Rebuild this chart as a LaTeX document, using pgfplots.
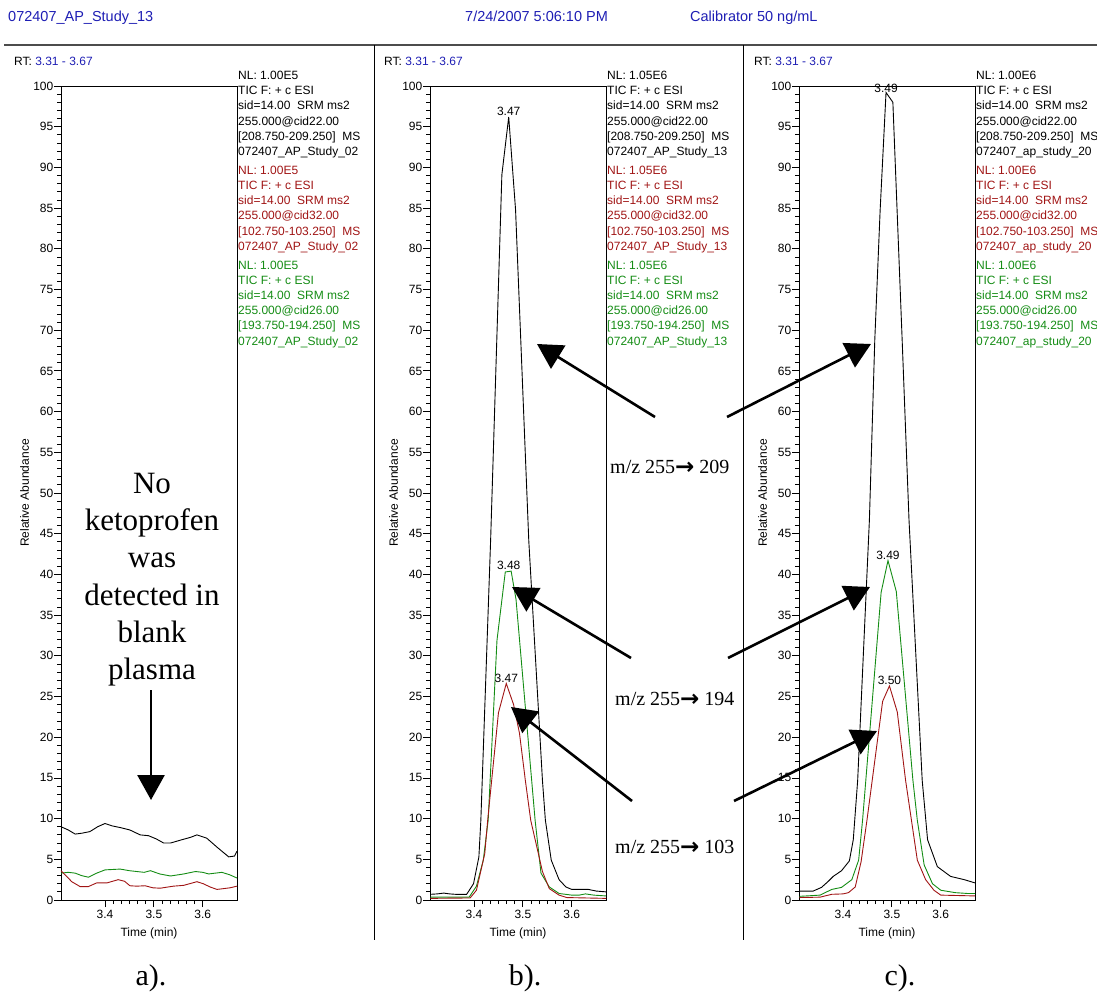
\documentclass[border=0pt]{standalone}
\usepackage{fontspec}
\setmainfont{Liberation Sans}
\newfontfamily\timesf{Liberation Serif}
\newfontfamily\djv{DejaVu Sans}
\usepackage{pgfplots}
\pgfplotsset{compat=1.18}
\usetikzlibrary{arrows.meta}
\definecolor{hdrblue}{RGB}{30,30,180}
\definecolor{cred}{RGB}{160,20,20}
\definecolor{cgreen}{RGB}{20,140,20}
\newcommand\fs[1]{\fontsize{#1}{#1}\selectfont}
\newcommand\legline[4]{\node[anchor=base west,inner sep=0pt,text=#3,font=\fs{12}] at (#1,{997-(#2)}) {#4};}
% #1 x, #2 y of first baseline, #3 colour, #4 NL, #5 cid, #6 range, #7 study
\newcommand\legblock[7]{%
  \legline{#1}{#2}{#3}{NL: #4}
  \legline{#1}{#2+15.2}{#3}{TIC F: + c ESI}
  \legline{#1}{#2+30.4}{#3}{sid=14.00\ \ SRM ms2}
  \legline{#1}{#2+45.6}{#3}{255.000@cid#5}
  \legline{#1}{#2+60.8}{#3}{[#6]\ \ MS}
  \legline{#1}{#2+76.0}{#3}{#7}}
\newcommand\arr{{\djv\bfseries\fs{23}\raisebox{-1pt}{→}}}
\pgfplotsset{chrom/.style={
  scale only axis, width=176pt, height=814pt,
  xmin=3.31, xmax=3.67, ymin=0, ymax=100,
  xtick={3.4,3.5,3.6}, ytick={0,5,...,100},
  minor x tick num=5, minor y tick num=4,
  tick align=outside, tick pos=left,
  major tick length=7pt, minor tick length=4pt,
  every tick/.style={black, line width=0.8pt},
  axis line style={line width=0.9pt},
  /pgf/number format/assume math mode=true,
  tick label style={font=\fs{12}},
  yticklabel style={inner xsep=0.5pt},
  xlabel={Time (min)}, ylabel={Relative Abundance},
  label style={font=\fs{12}},
  xlabel style={at={(axis description cs:0.5,-0.0405)}, anchor=center},
  ylabel style={at={(axis description cs:-0.207,0.5)}, anchor=center},
  clip=false,
  every axis plot/.append style={line width=0.9pt, mark=none},
  xticklabel style={/pgf/number format/.cd, fixed, precision=1},
}}
\begin{document}
\begin{tikzpicture}[x=1pt,y=1pt]
\useasboundingbox (0,0) rectangle (1097,997);
% header
\node[anchor=base west,inner sep=0pt,text=hdrblue,font=\fs{14.5}] at (8,975) {072407\_AP\_Study\_13};
\node[anchor=base west,inner sep=0pt,text=hdrblue,font=\fs{14.5}] at (465,975) {7/24/2007 5:06:10 PM};
\node[anchor=base west,inner sep=0pt,text=hdrblue,font=\fs{14.5}] at (690,975) {Calibrator 50 ng/mL};
\draw[line width=1.5pt, black!70] (4,997-45) -- (1097,997-45);
\draw[line width=1pt] (374,997-45) -- (374,997-940);
\draw[line width=1pt] (743,997-45) -- (743,997-940);
% RT labels
\node[anchor=base west,inner sep=0pt,font=\fs{12}] at (14,997-65.5) {RT: \textcolor{hdrblue}{3.31 - 3.67}};
\node[anchor=base west,inner sep=0pt,font=\fs{12}] at (384,997-65.5) {RT: \textcolor{hdrblue}{3.31 - 3.67}};
\node[anchor=base west,inner sep=0pt,font=\fs{12}] at (754,997-65.5) {RT: \textcolor{hdrblue}{3.31 - 3.67}};
% legends
\legblock{238}{79.5}{black}{1.00E5}{22.00}{208.750-209.250}{072407\_AP\_Study\_02}
\legblock{238}{174.3}{cred}{1.00E5}{32.00}{102.750-103.250}{072407\_AP\_Study\_02}
\legblock{238}{269.1}{cgreen}{1.00E5}{26.00}{193.750-194.250}{072407\_AP\_Study\_02}
\legblock{607}{79.5}{black}{1.05E6}{22.00}{208.750-209.250}{072407\_AP\_Study\_13}
\legblock{607}{174.3}{cred}{1.05E6}{32.00}{102.750-103.250}{072407\_AP\_Study\_13}
\legblock{607}{269.1}{cgreen}{1.05E6}{26.00}{193.750-194.250}{072407\_AP\_Study\_13}
\legblock{976}{79.5}{black}{1.00E6}{22.00}{208.750-209.250}{072407\_ap\_study\_20}
\legblock{976}{174.3}{cred}{1.00E6}{32.00}{102.750-103.250}{072407\_ap\_study\_20}
\legblock{976}{269.1}{cgreen}{1.00E6}{26.00}{193.750-194.250}{072407\_ap\_study\_20}

% ---------------- panel a
\begin{axis}[chrom, at={(61pt,97pt)}, anchor=south west]
\addplot[black] coordinates {(3.310,9.0) (3.325,8.6) (3.339,8.1) (3.352,8.2) (3.369,8.4) (3.385,9.0) (3.400,9.4) (3.415,9.1) (3.431,8.9) (3.451,8.6) (3.472,8.0) (3.489,7.9) (3.505,7.5) (3.520,7.0) (3.534,7.0) (3.557,7.4) (3.575,7.7) (3.588,8.0) (3.608,7.6) (3.629,6.5) (3.645,5.7) (3.653,5.3) (3.665,5.4) (3.670,6.0)};
\addplot[cgreen] coordinates {(3.310,3.3) (3.325,3.4) (3.339,3.3) (3.352,3.0) (3.366,2.8) (3.383,3.3) (3.400,3.7) (3.431,3.8) (3.450,3.6) (3.465,3.5) (3.480,3.4) (3.493,3.6) (3.512,3.2) (3.534,2.95) (3.561,3.2) (3.585,3.5) (3.600,3.4) (3.612,3.2) (3.639,3.4) (3.655,3.1) (3.670,2.7)};
\addplot[cred] coordinates {(3.310,3.6) (3.320,3.0) (3.332,2.25) (3.349,1.65) (3.366,1.65) (3.383,2.1) (3.404,2.1) (3.427,2.5) (3.440,2.3) (3.451,1.75) (3.465,1.7) (3.482,1.75) (3.498,1.5) (3.513,1.45) (3.540,1.7) (3.561,1.8) (3.588,2.25) (3.601,2.0) (3.615,1.6) (3.629,1.3) (3.656,1.5) (3.670,1.7)};
\end{axis}

% ---------------- panel b
\begin{axis}[chrom, at={(430pt,97pt)}, anchor=south west]
\addplot[black] coordinates {(3.311,0.7) (3.325,0.75) (3.338,0.85) (3.350,0.75) (3.362,0.7) (3.385,0.7) (3.399,2.0) (3.410,5.3) (3.414,9.8) (3.434,44.2) (3.457,89.1) (3.471,96.2) (3.485,84.8) (3.512,44.2) (3.540,14.7) (3.546,9.8) (3.558,4.9) (3.574,2.5) (3.588,1.6) (3.600,1.3) (3.634,1.3) (3.650,1.1) (3.670,1.0)};
\addplot[cgreen] coordinates {(3.311,0.35) (3.390,0.35) (3.405,1.7) (3.419,4.9) (3.429,9.8) (3.447,31.9) (3.464,40.3) (3.476,40.4) (3.486,36.9) (3.525,9.8) (3.537,3.3) (3.554,1.6) (3.574,0.8) (3.600,0.6) (3.615,0.6) (3.628,0.75) (3.645,0.6) (3.670,0.5)};
\addplot[cred] coordinates {(3.311,0.2) (3.392,0.25) (3.405,1.2) (3.422,5.7) (3.428,9.8) (3.450,23.0) (3.466,26.6) (3.481,24.0) (3.493,20.5) (3.505,14.7) (3.516,9.8) (3.540,3.5) (3.554,1.4) (3.574,0.6) (3.590,0.3) (3.670,0.2)};
\node[font=\fs{12},anchor=south,inner sep=1pt] at (axis cs:3.471,96.2) {3.47};
\node[font=\fs{12},anchor=south,inner sep=1pt] at (axis cs:3.471,40.4) {3.48};
\node[font=\fs{12},anchor=south,inner sep=1pt] at (axis cs:3.466,26.6) {3.47};
\end{axis}

% ---------------- panel c
\begin{axis}[chrom, at={(799pt,97pt)}, anchor=south west]
\addplot[black] coordinates {(3.311,1.1) (3.339,1.1) (3.356,1.55) (3.370,2.3) (3.380,2.9) (3.397,3.6) (3.413,4.8) (3.421,7.4) (3.430,14.7) (3.454,46.7) (3.465,68.8) (3.476,84.8) (3.488,99.2) (3.502,98.0) (3.521,68.8) (3.535,46.7) (3.562,14.7) (3.573,7.4) (3.593,4.1) (3.620,2.9) (3.648,2.5) (3.670,2.1)};
\addplot[cgreen] coordinates {(3.311,0.45) (3.353,0.6) (3.377,1.3) (3.397,1.55) (3.418,2.5) (3.432,4.9) (3.440,9.8) (3.478,37.8) (3.492,41.7) (3.509,37.9) (3.543,14.7) (3.552,9.8) (3.566,4.3) (3.583,2.0) (3.600,1.2) (3.630,0.9) (3.655,0.8) (3.670,0.8)};
\addplot[cred] coordinates {(3.311,0.3) (3.353,0.35) (3.377,0.7) (3.400,0.75) (3.411,0.9) (3.425,1.6) (3.437,4.7) (3.449,9.8) (3.481,24.4) (3.495,26.3) (3.511,23.1) (3.528,14.7) (3.540,9.8) (3.552,4.9) (3.569,2.5) (3.586,1.2) (3.600,0.6) (3.670,0.5)};
\node[font=\fs{12},anchor=south,inner sep=1pt] at (axis cs:3.488,99.0) {3.49};
\node[font=\fs{12},anchor=south,inner sep=1pt] at (axis cs:3.492,41.7) {3.49};
\node[font=\fs{12},anchor=south,inner sep=1pt] at (axis cs:3.495,26.3) {3.50};
\end{axis}

% annotations panel a
\foreach \t/\yy in {No/494, ketoprofen/531, was/568, detected in/605, blank/642, plasma/679}
  \node[font=\timesf\fs{31},anchor=base,inner sep=0pt] at (152,997-\yy) {\t};
\draw[line width=2.6pt, -{Triangle[length=25pt,width=27pt]}] (151,997-690) -- (151,997-800);

% arrows
\draw[line width=2.6pt, -{Triangle[length=25pt,width=27pt]}] (655,997-417) -- (537,997-344);
\draw[line width=2.6pt, -{Triangle[length=25pt,width=27pt]}] (727,997-417) -- (871,997-344);
\draw[line width=2.6pt, -{Triangle[length=25pt,width=27pt]}] (631,997-658) -- (512,997-587);
\draw[line width=2.6pt, -{Triangle[length=25pt,width=27pt]}] (728,997-658) -- (870,997-587);
\draw[line width=2.6pt, -{Triangle[length=25pt,width=27pt]}] (632,997-801) -- (511,997-707);
\draw[line width=2.6pt, -{Triangle[length=25pt,width=27pt]}] (734,997-801) -- (877,997-731);
\node[font=\timesf\fs{20},anchor=base west,inner sep=0pt] at (610,997-474) {m/z 255\arr{} 209};
\node[font=\timesf\fs{20},anchor=base west,inner sep=0pt] at (615,997-705) {m/z 255\arr{} 194};
\node[font=\timesf\fs{20},anchor=base west,inner sep=0pt] at (615,997-853) {m/z 255\arr{} 103};

% bottom labels
\node[font=\timesf\fs{30},anchor=base,inner sep=0pt] at (151,997-985) {a).};
\node[font=\timesf\fs{30},anchor=base,inner sep=0pt] at (525,997-985) {b).};
\node[font=\timesf\fs{30},anchor=base,inner sep=0pt] at (900,997-985) {c).};
\end{tikzpicture}
\end{document}
